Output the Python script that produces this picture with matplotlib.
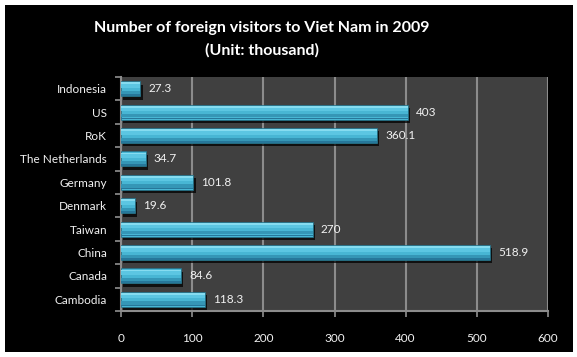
import numpy as np
import matplotlib.pyplot as plt
from matplotlib.patches import Rectangle
import matplotlib.patheffects as pe

countries = ["Cambodia", "Canada", "China", "Taiwan", "Denmark", "Germany",
             "The Netherlands", "RoK", "US", "Indonesia"]
visitors = [118.3, 84.6, 518.9, 270, 19.6, 101.8, 34.7, 360.1, 403, 27.3]
labels = ["118.3", "84.6", "518.9", "270", "19.6", "101.8", "34.7", "360.1", "403", "27.3"]
xticks = [0, 100, 200, 300, 400, 500, 600]

plt.rcParams['font.family'] = ['Lato', 'DejaVu Sans']
txt = '#f2f2f2'

fig = plt.figure(figsize=(5.77, 3.57), dpi=100, facecolor='white')
W, H = 577, 357
# black frame inside a thin white border
fig.patches.append(Rectangle((5 / W, 5 / H), 568 / W, 347 / H, transform=fig.transFigure,
                             facecolor='black', edgecolor='none', zorder=-10))

ax = fig.add_axes([121 / W, (H - 311) / H, 427 / W, 234 / H])
ax.set_facecolor('#404040')

y = np.arange(len(countries))
h = 0.64
ax.barh(y, visitors, height=h, color='#48b6d4', edgecolor='#226f86', linewidth=0.5,
        zorder=3, path_effects=[pe.SimplePatchShadow(offset=(1.5, -2.5), shadow_rgbFace='black', alpha=0.75),
                                pe.Normal()])
# fake the bevel gradient with a few bands
ax.barh(y + h * 0.36, visitors, height=h * 0.12, color='#86dcf0', edgecolor='none', zorder=4)
ax.barh(y + h * 0.18, visitors, height=h * 0.24, color='#5cc6e2', edgecolor='none', zorder=4)
ax.barh(y - h * 0.25, visitors, height=h * 0.22, color='#3596b6', edgecolor='none', zorder=4)
ax.barh(y - h * 0.42, visitors, height=h * 0.10, color='#26779a', edgecolor='none', zorder=4)

for yi, v, lab in zip(y, visitors, labels):
    ax.text(v + 11, yi, lab, va='center', ha='left', color=txt, fontsize=8.5, zorder=5)

ax.set_xlim(0, 600)
ax.set_ylim(-0.5, len(countries) - 0.5)
ax.set_xticks(xticks)
ax.set_xticklabels([str(t) for t in xticks], color=txt, fontsize=8.5)
ax.set_yticks(y)
ax.set_yticklabels(countries, color=txt, fontsize=8.5)
ax.set_yticks(np.arange(len(countries) + 1) - 0.5, minor=True)
ax.tick_params(axis='y', which='major', length=0, pad=10)
ax.tick_params(axis='y', which='minor', length=4, color='#909090', width=1.2)
ax.tick_params(axis='x', length=4, color='#909090', width=1.2, pad=12)

ax.grid(axis='x', color='#8c8c8c', linewidth=1.5, zorder=1)
ax.spines['top'].set_visible(False)
ax.spines['right'].set_visible(False)
for s in ['left', 'bottom']:
    ax.spines[s].set_color('#8c8c8c')
    ax.spines[s].set_linewidth(1.5)

fig.text(262 / W, 1 - 28 / H, "Number of foreign visitors to Viet Nam in 2009",
         ha='center', va='center', color='white', fontsize=11.5, fontweight='bold')
fig.text(262 / W, 1 - 50 / H, "(Unit: thousand)",
         ha='center', va='center', color='white', fontsize=11.5, fontweight='bold')

fig.savefig('out.png', dpi=100, facecolor='white')
